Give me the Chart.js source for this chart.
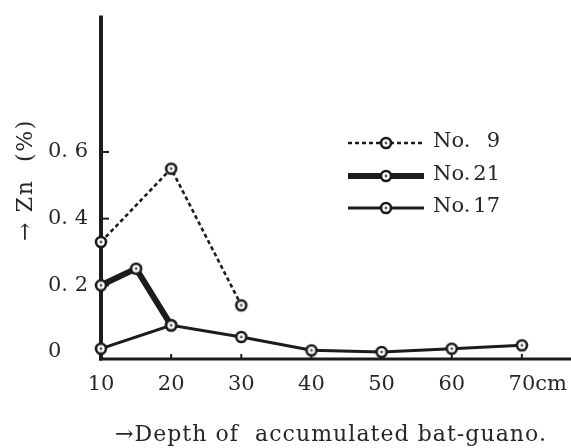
<!DOCTYPE html>
<html>
<head>
<meta charset="utf-8">
<script src="https://cdn.jsdelivr.net/npm/chart.js@4"></script>
<style>
  html, body { margin: 0; padding: 0; background: #fff; }
  canvas { display: block; }
</style>
</head>
<body>
<canvas id="zn" width="571" height="448"></canvas>
<script>
// Zn content (%) against depth of accumulated bat-guano (cm)
const no9Depth  = [10, 20, 30];
const no9Zn     = [0.33, 0.55, 0.14];
const no21Depth = [10, 15, 20];
const no21Zn    = [0.20, 0.25, 0.08];
const no17Depth = [10, 20, 30, 40, 50, 60, 70];
const no17Zn    = [0.01, 0.08, 0.045, 0.005, 0.0, 0.01, 0.02];

const seriesNames = ['No. 9', 'No. 21', 'No. 17'];
const depthTicks  = [10, 20, 30, 40, 50, 60, 70];
const znTicks     = [0, 0.2, 0.4, 0.6];
const depthUnit   = 'cm';
const xTitle = '\u2192Depth of  accumulated bat-guano.';
const yTitle = '\u2192 Zn  (%)';

const INK = '#1c1c1c';
const TEXT = '#262626';
const SERIF = '"DejaVu Serif", "Liberation Serif", serif';

// open circle marker with a small centre dot
function makeMarker() {
  const c = document.createElement('canvas');
  c.width = 16; c.height = 16;
  const g = c.getContext('2d');
  g.beginPath();
  g.arc(8, 8, 5, 0, Math.PI * 2);
  g.fillStyle = '#fff';
  g.fill();
  g.lineWidth = 2.6;
  g.strokeStyle = INK;
  g.stroke();
  g.beginPath();
  g.arc(8, 8, 1.4, 0, Math.PI * 2);
  g.fillStyle = '#555';
  g.fill();
  return c;
}
const marker = makeMarker();

function pts(xs, ys) { return xs.map((x, i) => ({ x: x, y: ys[i] })); }

const datasets = [
  { label: seriesNames[2], data: pts(no17Depth, no17Zn), borderWidth: 3, borderDash: [] },
  { label: seriesNames[1], data: pts(no21Depth, no21Zn), borderWidth: 6, borderDash: [] },
  { label: seriesNames[0], data: pts(no9Depth, no9Zn), borderWidth: 2.6, borderDash: [4, 3] }
].map(d => Object.assign(d, {
  borderColor: INK,
  backgroundColor: '#fff',
  pointStyle: marker,
  pointRadius: 6,
  pointHoverRadius: 6,
  tension: 0,
  clip: false,
  borderJoinStyle: 'miter'
}));

// draws text spread to a given total width
function spreadText(ctx, text, cx, cy, width) {
  ctx.letterSpacing = '0px';
  const w = ctx.measureText(text).width;
  const n = Array.from(text).length;
  ctx.letterSpacing = Math.max(0, (width - w) / n) + 'px';
  ctx.fillText(text, cx, cy);
  ctx.letterSpacing = '0px';
}

// axes lines and inner tick marks, beneath the series
const axesPlugin = {
  id: 'axes',
  beforeDatasetsDraw(chart) {
    const { ctx, chartArea: a, scales: { x, y } } = chart;
    ctx.save();
    ctx.strokeStyle = INK;
    ctx.lineCap = 'butt';
    // y axis
    ctx.lineWidth = 4;
    ctx.beginPath();
    ctx.moveTo(a.left, a.top);
    ctx.lineTo(a.left, a.bottom + 1.5);
    ctx.stroke();
    // x axis
    ctx.lineWidth = 3;
    ctx.beginPath();
    ctx.moveTo(a.left - 2, a.bottom);
    ctx.lineTo(chart.width, a.bottom);
    ctx.stroke();
    // y tick marks (inside)
    ctx.lineWidth = 2;
    znTicks.filter(v => v > 0).forEach(v => {
      const py = y.getPixelForValue(v);
      ctx.beginPath();
      ctx.moveTo(a.left, py);
      ctx.lineTo(a.left + 8, py);
      ctx.stroke();
    });
    // x tick marks (inside)
    depthTicks.slice(1).forEach(v => {
      const px = x.getPixelForValue(v);
      ctx.beginPath();
      ctx.moveTo(px, a.bottom);
      ctx.lineTo(px, a.bottom - 5);
      ctx.stroke();
    });
    ctx.restore();
  },
  afterDraw(chart) {
    const { ctx, scales: { x } } = chart;
    ctx.save();
    ctx.fillStyle = TEXT;
    ctx.font = '21px ' + SERIF;
    ctx.textBaseline = 'middle';
    // depth tick labels; unit follows the last one
    depthTicks.forEach((v, i) => {
      const px = x.getPixelForValue(v);
      const s = String(v);
      ctx.textAlign = 'center';
      ctx.fillText(s, px, 385);
      if (i === depthTicks.length - 1) {
        ctx.textAlign = 'left';
        ctx.fillText(depthUnit, px + ctx.measureText(s).width / 2, 385);
      }
    });
    // axis titles
    ctx.textAlign = 'center';
    ctx.font = '22px ' + SERIF;
    spreadText(ctx, xTitle, 331, 435, 432);
    ctx.translate(26, 180);
    ctx.rotate(-Math.PI / 2);
    ctx.font = '22px ' + SERIF;
    spreadText(ctx, yTitle, 0, 0, 122);
    ctx.restore();
  }
};

// legend: line sample with marker, then the series name
const legendPlugin = {
  id: 'sampleLegend',
  afterDraw(chart) {
    const { ctx } = chart;
    const order = [2, 1, 0];
    const rows = [143, 176, 208];
    ctx.save();
    order.forEach((di, r) => {
      const ds = chart.data.datasets[di];
      const yy = rows[r];
      ctx.strokeStyle = INK;
      ctx.lineWidth = ds.borderWidth;
      ctx.setLineDash(ds.borderDash);
      ctx.beginPath();
      ctx.moveTo(348, yy);
      ctx.lineTo(424, yy);
      ctx.stroke();
      ctx.setLineDash([]);
      ctx.drawImage(marker, 386 - 8, yy - 8);
      const parts = ds.label.split(' ');
      ctx.fillStyle = TEXT;
      ctx.font = '21px ' + SERIF;
      ctx.textBaseline = 'middle';
      ctx.textAlign = 'left';
      ctx.fillText(parts[0], 433, yy - 1);
      ctx.textAlign = 'right';
      ctx.fillText(parts[1], 500, yy - 1);
    });
    ctx.restore();
  }
};

new Chart(document.getElementById('zn'), {
  type: 'line',
  data: { datasets: datasets },
  options: {
    responsive: false,
    animation: false,
    events: [],
    layout: { autoPadding: false, padding: { left: 48, right: 0, top: 14, bottom: 0 } },
    plugins: { legend: { display: false }, tooltip: { enabled: false } },
    scales: {
      x: {
        type: 'linear',
        min: 10,
        max: 77,
        grid: { display: false },
        border: { display: false },
        ticks: { display: false },
        afterFit(s) { s.height = 89; }
      },
      y: {
        type: 'linear',
        min: -0.021,
        max: 1.009,
        grid: { display: false },
        border: { display: false },
        afterBuildTicks(s) { s.ticks = znTicks.map(v => ({ value: v })); },
        ticks: {
          crossAlign: 'far',
          color: TEXT,
          font: { family: SERIF, size: 21 },
          callback: v => (v === 0 ? '0' : v.toFixed(1).replace('.', '. '))
        },
        afterFit(s) { s.width = 53; }
      }
    }
  },
  plugins: [axesPlugin, legendPlugin]
});
</script>
</body>
</html>
